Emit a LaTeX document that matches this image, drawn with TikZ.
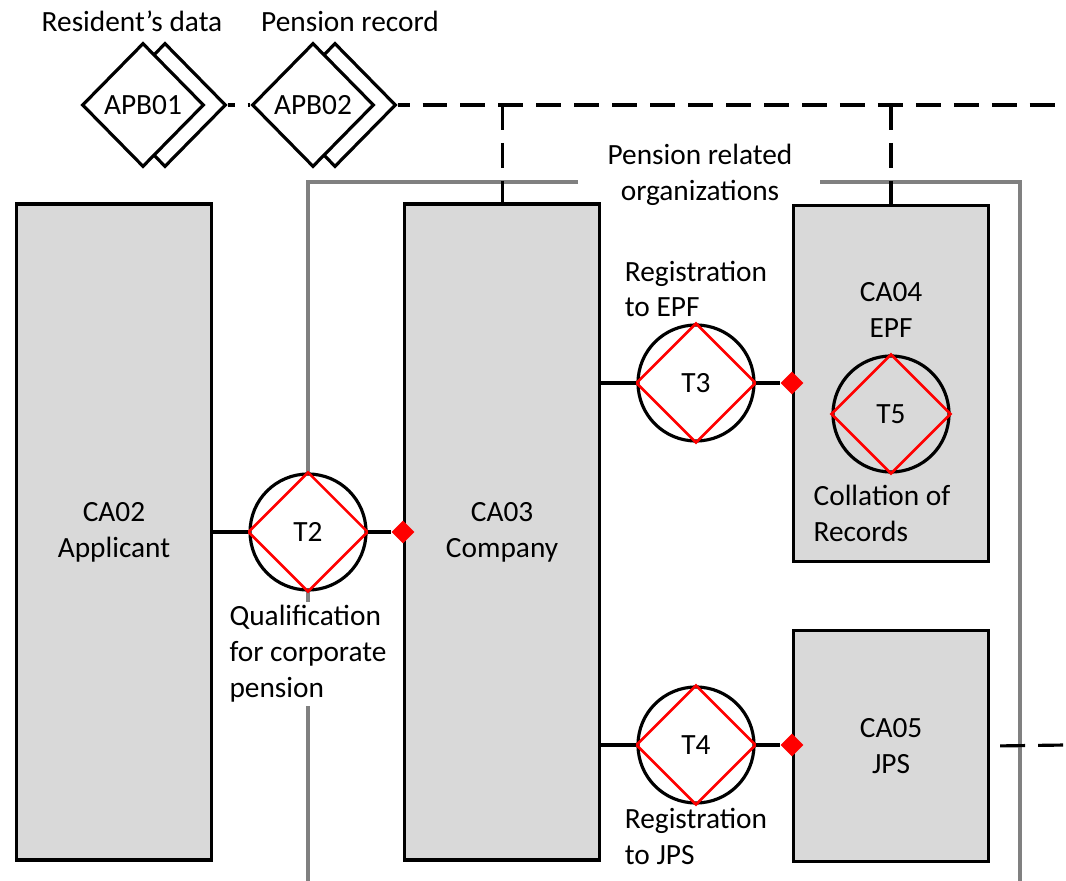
\documentclass[tikz,border=0pt]{standalone}
\usepackage{fontspec}
\setmainfont{Carlito}
\usetikzlibrary{shapes.geometric,positioning,calc}
\definecolor{actorgray}{RGB}{217,217,217}
\definecolor{orggray}{RGB}{128,128,128}
\definecolor{transred}{RGB}{255,0,0}

\begin{document}
\begin{tikzpicture}[
        x=0.02cm, y=-0.02cm,
        font=\fontsize{16.7}{20.4}\selectfont,
        actor/.style={rectangle, draw, line width=1.8pt, fill=actorgray, align=center, minimum width=3.9cm, inner sep=0pt},
        trans/.style={circle, draw, line width=1.8pt, minimum size=2.32cm, inner sep=0pt},
        bank/.style={diamond, draw, line width=1.8pt, fill=white, minimum width=2.44cm, minimum height=2.48cm, inner sep=0pt},
        marker/.style={diamond, fill=transred, minimum width=0.46cm, minimum height=0.46cm, inner sep=0pt},
        note/.style={align=left, inner sep=2pt},
        link/.style={line width=1.8pt},
        access/.style={line width=1.8pt, dash pattern=on 14.2pt off 7.4pt},
        boundary/.style={line width=2pt, draw=orggray}
    ]
    \useasboundingbox (0,0) rectangle (1066,881);

    \draw[boundary] (578,182) -- (308,182) -- (308,881);
    \draw[boundary] (820,182) -- (1020,182) -- (1020,881);
    \node[align=center] (orgtxt) at (700,175) {Pension related\\organizations};

    \node[actor, minimum height=13.12cm] (ca02) at (114,532) {CA02\\Applicant};
    \node[actor, minimum height=13.12cm, right=3.8cm of ca02] (ca03) {CA03\\Company};
    \node[actor, minimum height=7.12cm, anchor=north west] (ca04) at (792,204) {};
    \node[align=center, below=1.45cm of ca04.north] (ca04txt) {CA04\\EPF};
    \node[actor, minimum height=4.62cm, anchor=north west] (ca05) at (792,629) {CA05\\JPS};

    \node[trans, fill=white] (t2) at ($(ca02.east)!0.5!(ca03.west)$) {T2};
    \node[trans] (t3) at (696,383) {T3};
    \node[trans] (t4) at (696,745) {T4};
    \node[trans] (t5) at (891,414) {T5};
    \foreach \t in {t2,t3,t4,t5}
        \draw[line width=1.5pt, draw=transred] (\t.north) -- (\t.east) -- (\t.south) -- (\t.west) -- cycle;

    \node[marker] (m2) at (t2 -| ca03.west) {};
    \node[marker] (m3) at (t3 -| ca04.west) {};
    \node[marker] (m4) at (t4 -| ca05.west) {};

    \draw[link] (t2 -| ca02.east) -- (t2);
    \draw[link] (t2) -- (m2);
    \draw[link] (t3 -| ca03.east) -- (t3);
    \draw[link] (t3) -- (m3);
    \draw[link] (t4 -| ca03.east) -- (t4);
    \draw[link] (t4) -- (m4);

    \node[note, fill=white, below=0.2cm of t2] (t2txt) {Qualification\\for corporate\\pension};
    \node[note, above=0.05cm of t3] (t3txt) {Registration\\to EPF};
    \node[note, below=0cm of t4] (t4txt) {Registration\\to JPS};
    \node[note, below=0.15cm of t5, xshift=-0.18cm] (t5txt) {Collation of\\Records};

    \node[bank] (apb01b) at (165,105) {};
    \node[bank] (apb01) at (143,105) {APB01};
    \node[bank] (apb02b) at (335,105) {};
    \node[bank] (apb02) at (313,105) {APB02};
    \node (apb01txt) at (132,21) {Resident’s data};
    \node (apb02txt) at (350,21) {Pension record};

    \coordinate (busend) at (1066,105);
    \coordinate (jpsend) at (1066,745);
    \draw[access, dash phase=10.2pt] (apb01b.east) -- (apb02.west);
    \draw[access, dash phase=7.4pt] (apb02b.east) -- (busend);
    \draw[access] (ca03.north |- busend) -- (ca03.north);
    \draw[access] (ca04.north |- busend) -- (ca04.north);
    \draw[access, dash phase=15.9pt] (ca05.east) -- (jpsend);
\end{tikzpicture}
\end{document}
